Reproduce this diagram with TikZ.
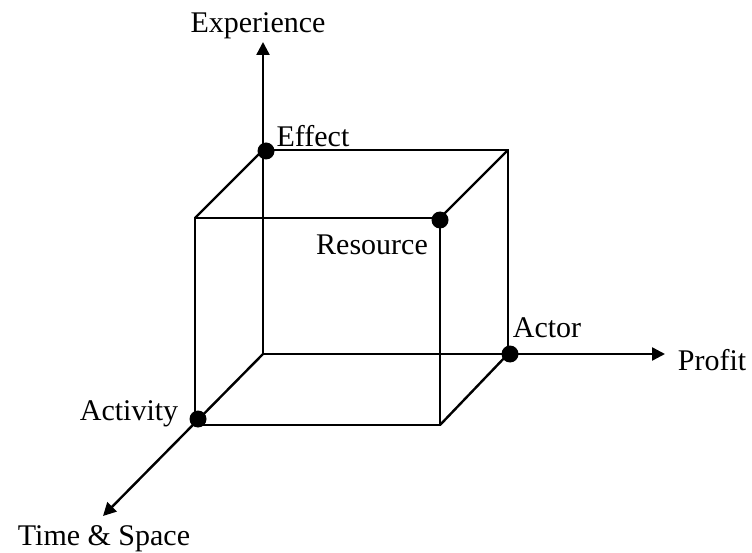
\documentclass[tikz,border=0pt]{standalone}
\usepackage{fontspec}
\setmainfont{Liberation Serif}
\usetikzlibrary{arrows.meta}
\begin{document}
\begin{tikzpicture}[x=1pt,y=-1pt,
  edge/.style={line width=2.4pt},
  axis/.style={line width=2.4pt,-{Triangle[length=13pt,width=13pt]}},
  dot/.style={circle,fill=black,inner sep=0pt,minimum size=17pt},
  lbl/.style={inner sep=0pt,anchor=base,font=\fontsize{30}{36}\selectfont}]
\useasboundingbox (0,0) rectangle (752,553);
% cube corners
\coordinate (O) at (263,354);
\coordinate (B1) at (263,150);
\coordinate (B2) at (508,150);
\coordinate (B3) at (508,354);
\coordinate (F1) at (195,218);
\coordinate (F2) at (440,218);
\coordinate (F3) at (440,425);
\coordinate (F4) at (195,425);
% axis ends
\coordinate (up) at (263,42);
\coordinate (right) at (665,354);
\coordinate (diag) at (103,516);
% cube edges
\draw[edge] (B1) -- (B2) -- (B3);
\draw[edge] (F1) -- (F2) -- (F3) -- (F4) -- cycle;
\draw[edge] (F1) -- (B1);
\draw[edge] (F2) -- (B2);
\draw[edge] (F3) -- (B3);
% axes
\draw[axis] (O) -- (up);
\draw[axis] (O) -- (right);
\draw[axis] (O) -- (diag);
% dots
\node[dot] (effect) at (266,151) {};
\node[dot] (resource) at (440,220) {};
\node[dot] (actor) at (510,354) {};
\node[dot] (activity) at (198,419) {};
% labels
\node[lbl] (lexp) at (258,33) {Experience};
\node[lbl] (leff) at (313,147) {Effect};
\node[lbl] (lres) at (372,255) {Resource};
\node[lbl] (lact) at (547,337) {Actor};
\node[lbl] (lpro) at (712,370) {Profit};
\node[lbl] (lacv) at (129,420) {Activity};
\node[lbl] (lts) at (104,545) {Time \& Space};
\end{tikzpicture}
\end{document}
